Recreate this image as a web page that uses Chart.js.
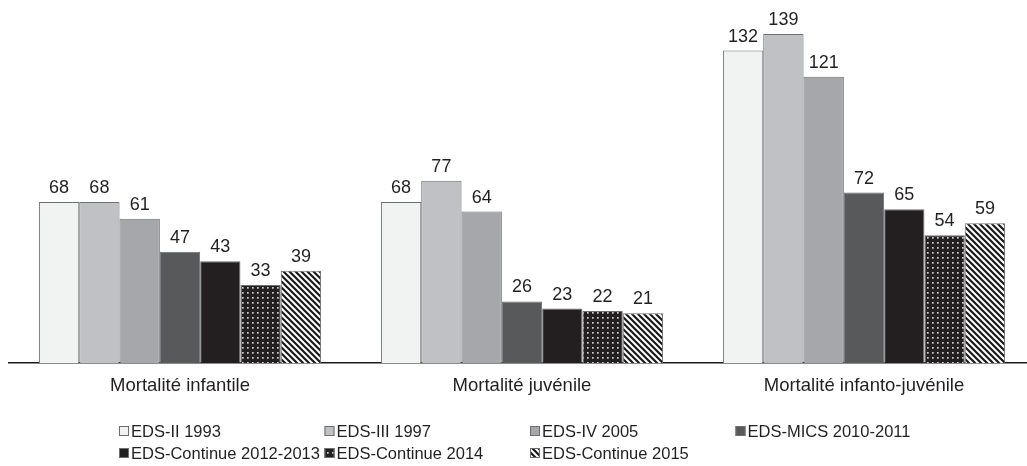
<!DOCTYPE html>
<html>
<head>
<meta charset="utf-8">
<script src="https://cdn.jsdelivr.net/npm/chart.js@4/dist/chart.umd.min.js"></script>
<style>
  body { margin: 0; overflow: hidden; background: #fff; }
  #wrap { width: 1040px; height: 466px; }
</style>
</head>
<body>
<div id="wrap"><canvas id="graph" width="1040" height="466"></canvas></div>
<script>
// donnees
var categories = ['Mortalité infantile', 'Mortalité juvénile', 'Mortalité infanto-juvénile'];
var seriesNames = ['EDS-II 1993', 'EDS-III 1997', 'EDS-IV 2005', 'EDS-MICS 2010-2011',
                   'EDS-Continue 2012-2013', 'EDS-Continue 2014', 'EDS-Continue 2015'];
var eds1993 = [68, 68, 132];
var eds1997 = [68, 77, 139];
var eds2005 = [61, 64, 121];
var mics2010 = [47, 26, 72];
var continue2012 = [43, 23, 65];
var continue2014 = [33, 22, 54];
var continue2015 = [39, 21, 59];

var police = '"Liberation Sans", Arial, sans-serif';
var encre = '#231f20';

// motif points (EDS-Continue 2014)
function motifPoints() {
    var c = document.createElement('canvas');
    c.width = 5; c.height = 5;
    var g = c.getContext('2d');
    g.fillStyle = '#231f20';
    g.fillRect(0, 0, 5, 5);
    g.fillStyle = '#cfcfcf';
    g.fillRect(2, 2, 1.7, 1.7);
    return g.createPattern(c, 'repeat');
}

// motif hachures (EDS-Continue 2015)
function motifHachures() {
    var c = document.createElement('canvas');
    c.width = 6; c.height = 6;
    var g = c.getContext('2d');
    g.fillStyle = '#ffffff';
    g.fillRect(0, 0, 6, 6);
    g.strokeStyle = '#1a1a1a';
    g.lineWidth = 2.2;
    g.beginPath();
    g.moveTo(-1, -1); g.lineTo(7, 7);
    g.moveTo(-4, 2); g.lineTo(4, 10);
    g.moveTo(2, -4); g.lineTo(10, 4);
    g.stroke();
    return g.createPattern(c, 'repeat');
}

var remplissages = ['#f1f2f2', '#c0c1c4', '#a6a7aa', '#58595b', '#231f20', motifPoints(), motifHachures()];
var valeurs = [eds1993, eds1997, eds2005, mics2010, continue2012, continue2014, continue2015];

var datasets = seriesNames.map(function (nom, i) {
    return {
        label: nom,
        data: valeurs[i],
        backgroundColor: remplissages[i],
        borderColor: '#6d6e71',
        borderWidth: 1,
        borderSkipped: 'bottom',
        categoryPercentage: 0.825,
        barPercentage: 1
    };
});

// etiquettes de valeur au-dessus des barres
var etiquettes = {
    id: 'etiquettes',
    afterDatasetsDraw: function (chart) {
        var ctx = chart.ctx;
        ctx.save();
        ctx.font = '18px ' + police;
        ctx.fillStyle = encre;
        ctx.textAlign = 'center';
        ctx.textBaseline = 'alphabetic';
        chart.data.datasets.forEach(function (ds, i) {
            chart.getDatasetMeta(i).data.forEach(function (bar, j) {
                ctx.fillText(ds.data[j], bar.x, bar.y - 9);
            });
        });
        ctx.restore();
    }
};

// legende en grille de 4 colonnes
var legende = {
    id: 'legende',
    afterDraw: function (chart) {
        var ctx = chart.ctx;
        ctx.save();
        ctx.font = '16.5px ' + police;
        ctx.textBaseline = 'alphabetic';
        chart.data.datasets.forEach(function (ds, i) {
            var col = i % 4, ligne = Math.floor(i / 4);
            var x = 119 + col * 205.5;
            var y = 437 + ligne * 22;
            ctx.fillStyle = ds.backgroundColor;
            ctx.fillRect(x, y - 11, 10, 10);
            ctx.strokeStyle = '#6d6e71';
            ctx.lineWidth = 1;
            ctx.strokeRect(x + 0.5, y - 10.5, 9, 9);
            ctx.fillStyle = encre;
            ctx.fillText(ds.label, x + 12, y);
        });
        ctx.restore();
    }
};

var ctx = document.getElementById('graph').getContext('2d');
var graphique = new Chart(ctx, {
    type: 'bar',
    data: { labels: categories, datasets: datasets },
    options: {
        responsive: false,
        animation: false,
        layout: { padding: { top: 8, left: 9, right: 5, bottom: 0 } },
        plugins: {
            legend: { display: false },
            tooltip: { enabled: false }
        },
        scales: {
            x: {
                grid: { display: false, drawTicks: false },
                border: { display: true, color: '#1a1a1a', width: 1.5 },
                ticks: {
                    color: encre,
                    padding: 12,
                    font: { family: police, size: 18.5 }
                },
                afterFit: function (scale) { scale.height = 103; }
            },
            y: {
                display: false,
                min: 0,
                max: 150
            }
        }
    },
    plugins: [etiquettes, legende]
});
</script>
</body>
</html>
